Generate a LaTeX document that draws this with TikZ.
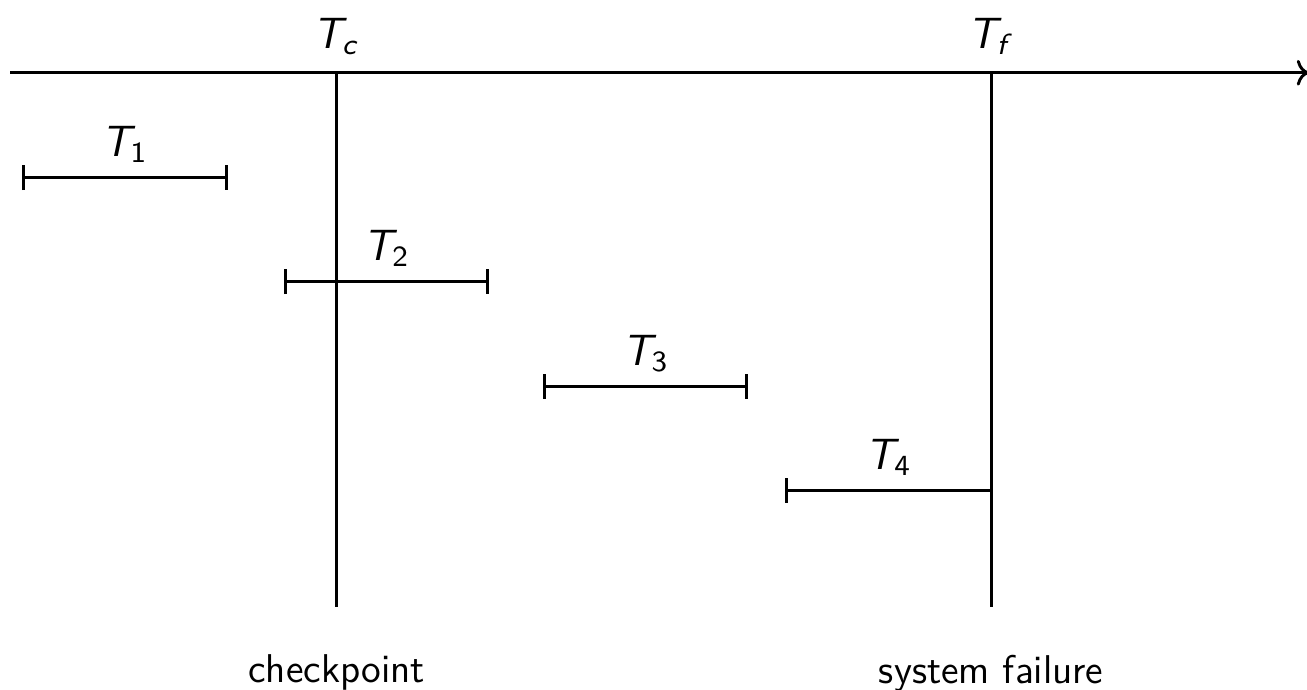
\documentclass[tikz,border=0pt]{standalone}
\usepackage{amsmath,amssymb}
\renewcommand{\familydefault}{\sfdefault}
\DeclareSymbolFont{sfit}{OT1}{cmss}{m}{sl}
\SetSymbolFont{operators}{normal}{OT1}{cmss}{m}{n}
\DeclareMathSymbol{T}{\mathalpha}{sfit}{`T}
\DeclareMathSymbol{c}{\mathalpha}{sfit}{`c}
\DeclareMathSymbol{f}{\mathalpha}{sfit}{`f}
\usetikzlibrary{arrows.meta,positioning,calc}
\definecolor{Ink}{HTML}{000000}
\tikzset{
  timeaxis/.style={-To,draw=Ink,line width=.8pt},
  marker/.style={draw=Ink,line width=.8pt},
  span/.style={{Bar[width=2.4mm]}-{Bar[width=2.4mm]},draw=Ink,line width=.8pt},
  openspan/.style={{Bar[width=2.4mm]}-,draw=Ink,line width=.8pt},
  tag/.style={inner sep=1pt,text=Ink},
  mtag/.style={tag,font=\fontsize{12}{14.4}\selectfont}
}

\begin{document}
\begin{tikzpicture}[font=\fontsize{11}{13.2}\selectfont]
      \useasboundingbox (0,0) rectangle (12.58,-6.64);
      % time axis
      \coordinate (axs) at (0.10,-0.70);
      \coordinate (axe) at (12.60,-0.70);
      \draw[timeaxis] (axs) -- (axe);
      % checkpoint and failure
      \coordinate (cpt) at (3.24,-0.70);
      \coordinate (cpb) at (3.24,-5.84);
      \coordinate (flt) at (9.54,-0.70);
      \coordinate (flb) at (9.54,-5.84);
      \draw[marker] (cpt) -- (cpb);
      \draw[marker] (flt) -- (flb);
      \node[mtag,above=.13cm of cpt] (tc) {$T_c$};
      \node[mtag,above=.13cm of flt] (tf) {$T_f$};
      \node[tag,below=.42cm of cpb] (cpl) {checkpoint};
      \node[tag,below=.42cm of flb] (fll) {system failure};
      % transactions
      \coordinate (t1s) at (0.21,-1.71);
      \coordinate (t1e) at (2.19,-1.71);
      \coordinate (t2s) at (2.73,-2.71);
      \coordinate (t2e) at (4.71,-2.71);
      \coordinate (t3s) at (5.23,-3.72);
      \coordinate (t3e) at (7.20,-3.72);
      \coordinate (t4s) at (7.56,-4.72);
      \coordinate (t4e) at (9.54,-4.72);
      \draw[span] (t1s) -- (t1e);
      \draw[span] (t2s) -- (t2e);
      \draw[span] (t3s) -- (t3e);
      \draw[openspan] (t4s) -- (t4e);
      \node[mtag,above=.1cm of {$(t1s)!.5!(t1e)$}] (t1) {$T_1$};
      \node[mtag,above=.1cm of {$(t2s)!.5!(t2e)$}] (t2) {$T_2$};
      \node[mtag,above=.1cm of {$(t3s)!.5!(t3e)$}] (t3) {$T_3$};
      \node[mtag,above=.1cm of {$(t4s)!.5!(t4e)$}] (t4) {$T_4$};
    \end{tikzpicture}
\end{document}
